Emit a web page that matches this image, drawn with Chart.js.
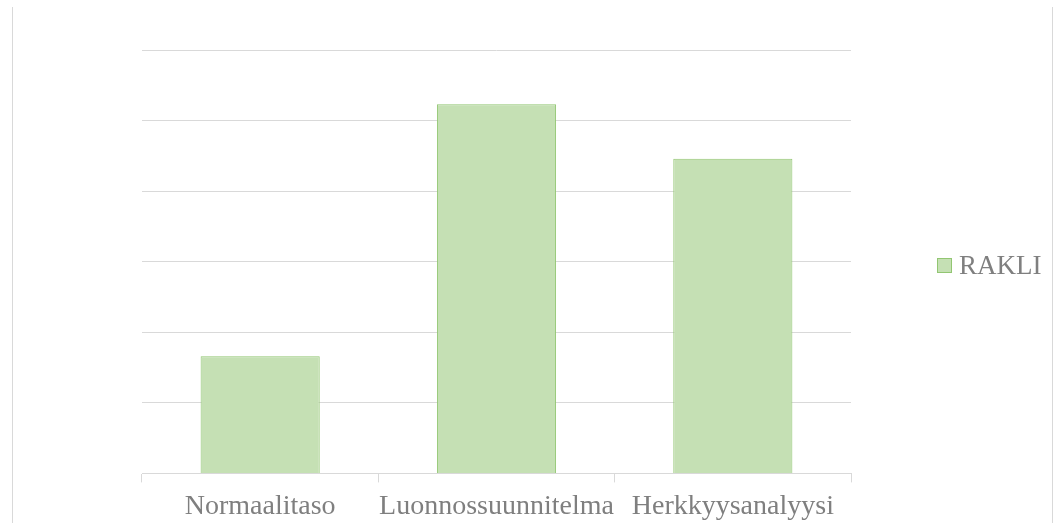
<!DOCTYPE html>
<html>
<head>
<meta charset="utf-8">
<script src="https://cdn.jsdelivr.net/npm/chart.js@4"></script>
<style>
  html, body { margin: 0; padding: 0; background: #fff; }
  .wrap { position: relative; width: 1053px; height: 523px; overflow: hidden; }
  .frame {
    position: absolute; left: 12px; top: 7px; width: 1039px; height: 516px;
    border-left: 1px solid #d9d9d9; border-right: 1px solid #d9d9d9;
  }
  canvas { position: absolute; left: 0; top: 0; }
  .legend {
    position: absolute; left: 937px; top: 250px;
    font: 27px "Liberation Serif", serif; color: #7f7f7f;
    display: flex; align-items: center;
  }
  .legend span.box {
    display: inline-block; width: 13px; height: 13px; margin-right: 7px;
    background: #c5e0b4; border: 1px solid #92c672;
  }
</style>
</head>
<body>
<div class="wrap">
  <div class="frame"></div>
  <canvas id="bar-chart" width="1053" height="530"></canvas>
  <div class="legend" id="legend"></div>
</div>
<script>
const categories = ["Normaalitaso", "Luonnossuunnitelma", "Herkkyysanalyysi"];
const rakli = [1.66, 5.23, 4.46];
const seriesName = "RAKLI";

const chart = new Chart(document.getElementById("bar-chart"), {
  type: "bar",
  data: {
    labels: categories,
    datasets: [
      {
        label: seriesName,
        data: rakli,
        backgroundColor: "#c5e0b4",
        borderColor: "#92c672",
        borderWidth: 1,
        categoryPercentage: 1,
        barPercentage: 0.504,
      },
    ],
  },
  options: {
    responsive: false,
    animation: false,
    layout: { padding: { left: 142, right: 202, top: 50, bottom: 0 } },
    plugins: { legend: { display: false }, tooltip: { enabled: false } },
    scales: {
      x: {
        grid: {
          offset: true,
          drawOnChartArea: false,
          tickLength: 9,
          color: "#d9d9d9",
        },
        border: { color: "#d9d9d9" },
        ticks: {
          padding: 7,
          autoSkip: false,
          color: "#7f7f7f",
          font: { family: "Liberation Serif", size: 28 },
          maxRotation: 0,
        },
      },
      y: {
        min: 0,
        max: 6,
        ticks: { display: false, stepSize: 1 },
        grid: { color: "#d9d9d9", drawTicks: false },
        border: { display: false },
      },
    },
  },
});

// legend built from the dataset
const legend = document.getElementById("legend");
chart.data.datasets.forEach((ds) => {
  const box = document.createElement("span");
  box.className = "box";
  legend.appendChild(box);
  legend.appendChild(document.createTextNode(ds.label));
});
</script>
</body>
</html>
